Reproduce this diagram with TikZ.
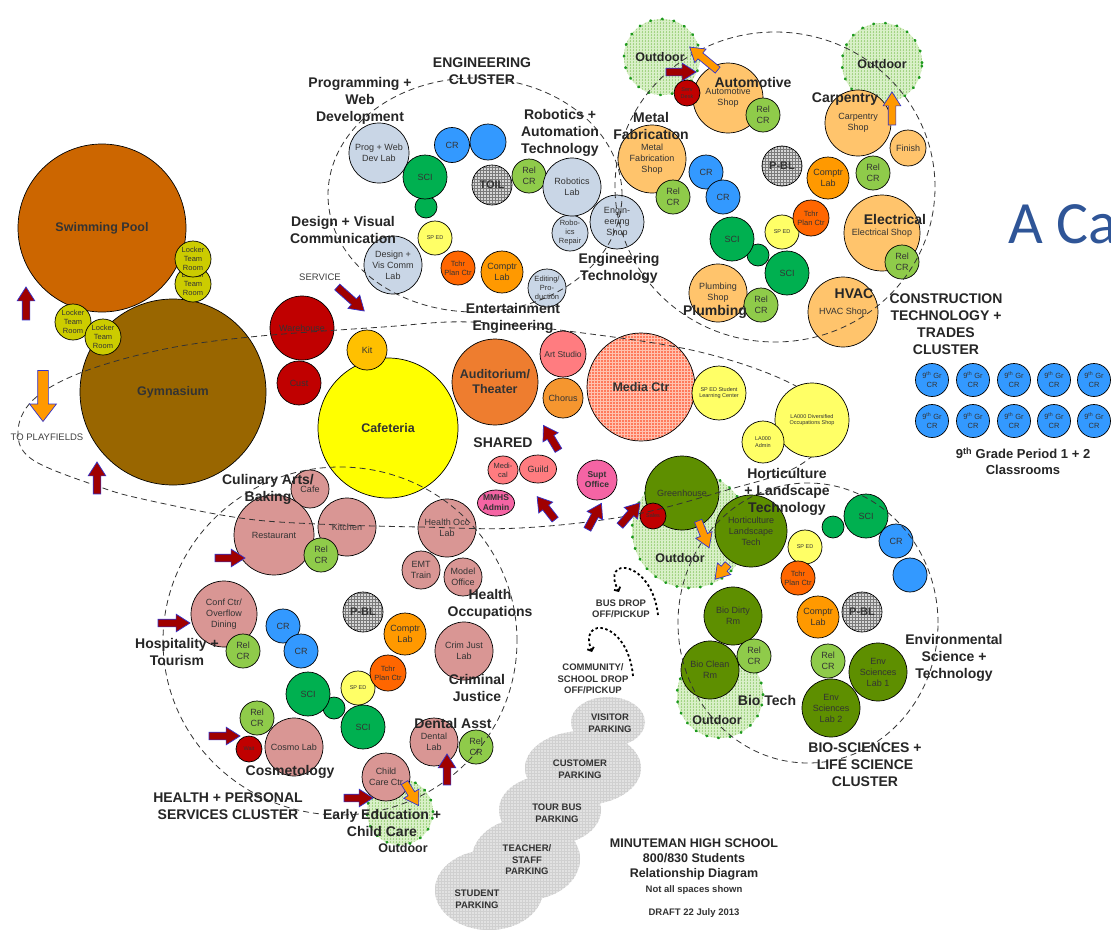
\documentclass[tikz,border=0pt]{standalone}
\usepackage{fontspec}
\setmainfont{Liberation Sans}
\newfontfamily\slidefont{Carlito}
\usetikzlibrary{shapes.geometric,shapes.arrows,patterns,calc,arrows.meta}

% palette
\definecolor{cEng}{HTML}{C9D6E6}
\definecolor{cSci}{HTML}{00B050}
\definecolor{cCr}{HTML}{3399FF}
\definecolor{cRel}{HTML}{8FCB4A}
\definecolor{cSped}{HTML}{FFFF66}
\definecolor{cTchr}{HTML}{FF6600}
\definecolor{cComp}{HTML}{FF9900}
\definecolor{cShop}{HTML}{FFC46C}
\definecolor{cDred}{HTML}{C00000}
\definecolor{cHealth}{HTML}{D99694}
\definecolor{cHort}{HTML}{5E8F00}
\definecolor{cOut}{HTML}{D9F0C8}
\definecolor{cOutGrid}{HTML}{A3D484}
\definecolor{cOutDot}{HTML}{1E9A1E}
\definecolor{cPool}{HTML}{CC6600}
\definecolor{cGym}{HTML}{996600}
\definecolor{cLock}{HTML}{CCCC00}
\definecolor{cKit}{HTML}{FFC000}
\definecolor{cCaf}{HTML}{FFFF00}
\definecolor{cAud}{HTML}{EE7D2F}
\definecolor{cArt}{HTML}{FF7C80}
\definecolor{cChor}{HTML}{F5962F}
\definecolor{cMedia}{HTML}{FF7A5C}
\definecolor{cMediaGrid}{HTML}{FFC2B0}
\definecolor{cAdmin}{HTML}{F564A4}
\definecolor{cHatch}{HTML}{D6D6D6}
\definecolor{cHatchGrid}{HTML}{7A7A7A}
\definecolor{cPark}{HTML}{E2E2E2}
\definecolor{cParkGrid}{HTML}{D0D0D0}
\definecolor{cArrRed}{HTML}{A00000}
\definecolor{cArrBlue}{HTML}{3333CC}
\definecolor{cArrOr}{HTML}{FF9900}
\definecolor{cSlide}{HTML}{2F5597}

\tikzset{
  rm/.style={circle, draw=black, line width=0.7pt, inner sep=0pt},
  rmtxt/.style={inner sep=0pt, align=center, text=black!80, font=\fontsize{9}{11}\selectfont},
  txs/.style={font=\fontsize{7.5}{9}\selectfont},
  txt/.style={font=\fontsize{5.5}{6.5}\selectfont},
  txb/.style={font=\bfseries\fontsize{11}{13}\selectfont},
  txbs/.style={font=\bfseries\fontsize{8.5}{10}\selectfont},
  txbb/.style={font=\bfseries\fontsize{12.5}{15}\selectfont},
  eng/.style={fill=cEng}, sci/.style={fill=cSci}, crm/.style={fill=cCr},
  rel/.style={fill=cRel}, sped/.style={fill=cSped}, tchr/.style={fill=cTchr},
  comp/.style={fill=cComp}, shop/.style={fill=cShop}, dred/.style={fill=cDred},
  hlth/.style={fill=cHealth}, hort/.style={fill=cHort},
  hatch/.style={preaction={fill=cHatch}, pattern=grid, pattern color=cHatchGrid},
  mediafill/.style={preaction={fill=cMedia}, pattern=grid, pattern color=cMediaGrid},
  outdoor/.style={circle, inner sep=0pt, preaction={fill=cOut}, pattern=grid,
    pattern color=cOutGrid, draw=cOutDot, line width=2.6pt, line cap=round,
    dash pattern=on 0.8pt off 11pt},
  parking/.style={ellipse, inner sep=0pt, preaction={fill=cPark}, pattern=grid,
    pattern color=cParkGrid},
  cluster/.style={draw=black!80, line width=0.8pt, dash pattern=on 6pt off 4pt},
  lbl/.style={inner sep=0pt, align=center, text=black!85,
    font=\bfseries\fontsize{14}{17}\selectfont},
  lblm/.style={lbl, font=\bfseries\fontsize{12.5}{15}\selectfont},
  lbls/.style={lbl, text=black!80, font=\bfseries\fontsize{9.5}{11.5}\selectfont},
  note/.style={inner sep=0pt, align=center, text=black!75,
    font=\fontsize{9.5}{11}\selectfont},
  blkred/.style={single arrow, fill=cArrRed, draw=cArrBlue, line width=0.7pt,
    inner xsep=0pt, inner ysep=3.5pt, single arrow head extend=5pt,
    single arrow tip angle=65},
  blkor/.style={blkred, fill=cArrOr},
  blkbig/.style={blkor, inner ysep=5pt, single arrow head extend=8pt,
    single arrow tip angle=75},
  dropline/.style={line width=1.8pt, dash pattern=on 2.5pt off 2.5pt,
    -{Straight Barb[length=3pt,width=7pt]}},
}

% a room: name, centre, radius, fill style, text style, text
\newcommand\roomc[6]{%
  \node[rm, minimum size=#3*2pt, #4] (#1) at (#2) {};
  \node[rmtxt, #5] (#1-t) at (#1.center) {#6};}
% a block arrow: name, style, tail, tip
\newcommand\blk[4]{%
  \path let \p1=(#3), \p2=(#4), \n1={atan2(\y2-\y1,\x2-\x1)},
    \n2={veclen(\x2-\x1,\y2-\y1)} in
    node[#2, rotate=\n1, minimum height=\n2] (#1) at ($(\p1)!0.5!(\p2)$) {};}

\begin{document}
\begin{tikzpicture}[x=1pt,y=-1pt]
\useasboundingbox (0,0) rectangle (1111,929);
\fill[white] (0,0) rectangle (1111,929);

% ---------- parking ----------
\node[parking, minimum width=108pt, minimum height=80pt] (pstudent) at (489,890) {};
\node[parking, minimum width=108pt, minimum height=82pt] (pteacher) at (526,859) {};
\node[parking, minimum width=102pt, minimum height=70pt] (ptour) at (550,810) {};
\node[parking, minimum width=116pt, minimum height=74pt] (pcustomer) at (583,768) {};
\node[parking, minimum width=74pt, minimum height=50pt] (pvisitor) at (608,722) {};

% ---------- outdoor areas ----------
\node[outdoor, minimum size=76pt] (outauto) at (662,57) {};
\node[outdoor, minimum size=80pt] (outcarp) at (882,63) {};
\node[outdoor, minimum size=116pt] (outgreen) at (690,530) {};
\node[outdoor, minimum size=86pt] (outbio) at (720,695) {};
\node[outdoor, minimum size=66pt] (outchild) at (400,812) {};

% ---------- athletics ----------
\roomc{pool}{102,228}{84}{fill=cPool}{txbb}{Swimming Pool}
\roomc{gym}{173,392}{93}{fill=cGym}{txbb}{Gymnasium}
\roomc{lock1}{193,284}{18}{fill=cLock}{txs}{Locker\\Team\\Room}
\roomc{lock2}{193,259}{18}{fill=cLock}{txs}{Locker\\Team\\Room}
\roomc{lock3}{73,322}{18}{fill=cLock}{txs}{Locker\\Team\\Room}
\roomc{lock4}{103,337}{18}{fill=cLock}{txs}{Locker\\Team\\Room}

% ---------- engineering cluster ----------
\roomc{ecs}{426,207}{11}{sci}{}{}
\roomc{progweb}{379,153}{30}{eng}{}{Prog + Web\\Dev Lab}
\roomc{ecr1}{452,145}{17.5}{crm}{}{CR}
\roomc{ecr2}{488,142}{18}{crm}{}{}
\roomc{esci}{425,177}{22}{sci}{}{SCI}
\roomc{toil}{492,185}{20}{hatch}{txb}{TOIL}
\roomc{erel}{529,176}{17}{rel}{}{Rel\\CR}
\roomc{robrep}{570,233}{18}{eng}{txs}{Robo-\\ics\\Repair}
\roomc{roblab}{572,187}{29}{eng}{}{Robotics\\Lab}
\roomc{engshop}{617,222}{27}{eng}{}{Engin-\\eering\\Shop}
\roomc{esped}{435,238}{17}{sped}{txt}{SP ED}
\roomc{dvc}{393,265}{29}{eng}{}{Design +\\Vis Comm\\Lab}
\roomc{etchr}{458,268}{17}{tchr}{txs}{Tchr\\Plan Ctr}
\roomc{ecomp}{502,272}{21}{comp}{}{Comptr\\Lab}
\roomc{edit}{547,288}{19}{eng}{txs}{Editing/\\Pro-\\duction}

% ---------- construction cluster ----------
\roomc{autoshop}{728,98}{35}{shop}{}{Automotive\\Shop}
\roomc{servdesk}{687,93}{13}{dred}{txt}{Serv\\Desk}
\roomc{arel}{763,115}{17}{rel}{}{Rel\\CR}
\roomc{carpshop}{858,123}{33}{shop}{}{Carpentry\\Shop}
\roomc{finish}{908,148}{18}{shop}{}{Finish}
\roomc{crel}{873,173}{17}{rel}{}{Rel\\CR}
\roomc{metalshop}{652,159}{34}{shop}{}{Metal\\Fabrication\\Shop}
\roomc{mrel}{673,197}{17}{rel}{}{Rel\\CR}
\roomc{ccr1}{706,172}{17}{crm}{}{CR}
\roomc{ccr2}{723,197}{17}{crm}{}{CR}
\roomc{cpbl}{782,166}{20}{hatch}{txb}{P-BL}
\roomc{ccomp}{828,178}{21}{comp}{}{Comptr\\Lab}
\roomc{csped}{782,232}{17}{sped}{txt}{SP ED}
\roomc{ctchr}{811,218}{18}{tchr}{txs}{Tchr\\Plan Ctr}
\roomc{ccs}{758,255}{11}{sci}{}{}
\roomc{csci1}{732,239}{22}{sci}{}{SCI}
\roomc{csci2}{787,273}{22}{sci}{}{SCI}
\roomc{elecshop}{882,233}{38}{shop}{}{Electrical Shop}
\roomc{erel2}{902,262}{17}{rel}{}{Rel\\CR}
\roomc{plumbshop}{718,293}{29}{shop}{}{Plumbing\\Shop}
\roomc{prel}{761,305}{17}{rel}{}{Rel\\CR}
\roomc{hvacshop}{843,312}{35}{shop}{}{HVAC Shop}

% ---------- 9th grade classrooms ----------
\foreach \i/\cx in {1/932,2/973,3/1014,4/1054,5/1094}
  \foreach \j/\cy in {a/380,b/421}
    {\roomc{g\i\j}{\cx,\cy}{16.5}{crm}{txs}{9\textsuperscript{th} Gr\\CR}}

% ---------- shared spaces ----------
\roomc{warehouse}{302,328}{32}{dred}{}{Warehouse}
\roomc{cust}{299,383}{22}{dred}{}{Cust}
\roomc{cafeteria}{388,428}{70}{fill=cCaf}{txbb}{Cafeteria}
\roomc{kit}{367,350}{20}{fill=cKit}{}{Kit}
\roomc{aud}{495,382}{43}{fill=cAud}{txbb}{Auditorium/\\Theater}
\roomc{art}{563,354}{23}{fill=cArt}{font=\fontsize{8.5}{10}\selectfont}{Art Studio}
\roomc{chorus}{563,398}{20}{fill=cChor}{}{Chorus}
\roomc{media}{641,387}{54}{mediafill}{txbb}{Media Ctr}
\roomc{sslc}{719,393}{27}{sped}{txt}{SP ED Student\\Learning Center}
\roomc{medical}{503,470}{14}{fill=cArt, ellipse, minimum width=30pt}{txs}{Medi-\\cal}
\roomc{guild}{538,469}{14}{fill=cArt, ellipse, minimum width=37pt}{}{Guild}
\roomc{mmhs}{496,503}{13}{fill=cAdmin, ellipse, minimum width=37pt}{txbs}{MMHS\\Admin}
\roomc{supt}{597,480}{20}{fill=cAdmin}{txbs}{Supt\\Office}

% ---------- health + personal services cluster ----------
\roomc{cafe}{310,489}{19}{hlth}{}{Cafe}
\roomc{restaurant}{274,535}{40}{hlth}{}{Restaurant}
\roomc{kitchen}{347,527}{29}{hlth}{}{Kitchen}
\roomc{hrel1}{321,555}{17}{rel}{}{Rel\\CR}
\roomc{healthocc}{447,528}{29}{hlth}{}{Health Occ\\Lab}
\roomc{emt}{421,570}{19}{hlth}{}{EMT\\Train}
\roomc{model}{463,577}{19}{hlth}{}{Model\\Office}
\roomc{confctr}{224,614}{33}{hlth}{}{Conf Ctr/\\Overflow\\Dining}
\roomc{hrel2}{243,651}{17}{rel}{}{Rel\\CR}
\roomc{hcr1}{283,626}{17}{crm}{}{CR}
\roomc{hcr2}{301,651}{17}{crm}{}{CR}
\roomc{hpbl}{363,612}{20}{hatch}{txb}{P-BL}
\roomc{hcomp}{405,634}{21}{comp}{}{Comptr\\Lab}
\roomc{hsped}{358,688}{17}{sped}{txt}{SP ED}
\roomc{htchr}{388,673}{18}{tchr}{txs}{Tchr\\Plan Ctr}
\roomc{hcs}{334,708}{11}{sci}{}{}
\roomc{hsci1}{308,694}{22}{sci}{}{SCI}
\roomc{hsci2}{363,727}{22}{sci}{}{SCI}
\roomc{crimlab}{464,651}{29}{hlth}{}{Crim Just\\Lab}
\roomc{hrel3}{257,718}{17}{rel}{}{Rel\\CR}
\roomc{cosmo}{294,747}{29}{hlth}{}{Cosmo Lab}
\roomc{wait}{249,749}{13}{dred}{txt}{Wait}
\roomc{dental}{434,742}{24}{hlth}{}{Dental\\Lab}
\roomc{hrel4}{476,747}{17}{rel}{}{Rel\\CR}
\roomc{childcare}{386,777}{24}{hlth}{}{Child\\Care Ctr}

% ---------- bio-sciences cluster ----------
\roomc{greenhouse}{682,493}{37}{hort}{}{Greenhouse}
\roomc{sales}{653,516}{13}{dred}{txt}{Sales}
\roomc{hortlab}{751,531}{36}{hort}{}{Horticulture\\Landscape\\Tech}
\roomc{bsped}{805,547}{17}{sped}{txt}{SP ED}
\roomc{btchr}{798,578}{17}{tchr}{txs}{Tchr\\Plan Ctr}
\roomc{bcomp}{818,617}{21}{comp}{}{Comptr\\Lab}
\roomc{bpbl}{862,612}{20}{hatch}{txb}{P-BL}
\roomc{bcs}{833,527}{11}{sci}{}{}
\roomc{bsci}{866,516}{22}{sci}{}{SCI}
\roomc{bcr1}{896,541}{17}{crm}{}{CR}
\roomc{bcr2}{910,575}{17}{crm}{}{}
\roomc{biodirty}{733,616}{29}{hort}{}{Bio Dirty\\Rm}
\roomc{brel1}{754,656}{17}{rel}{}{Rel\\CR}
\roomc{bioclean}{710,670}{29}{hort}{}{Bio Clean\\Rm}
\roomc{brel2}{828,661}{17}{rel}{}{Rel\\CR}
\roomc{envlab1}{878,672}{29}{hort}{}{Env\\Sciences\\Lab 1}
\roomc{envlab2}{831,708}{29}{hort}{}{Env\\Sciences\\Lab 2}

% ---------- cluster boundaries ----------
\draw[cluster] (475,195) ellipse [x radius=147pt, y radius=117pt];
\draw[cluster] (775,187) ellipse [x radius=160pt, y radius=155pt];
\draw[cluster] (340,641) ellipse [x radius=177pt, y radius=174pt];
\draw[cluster] (808,623) ellipse [x radius=130pt, y radius=140pt];
\draw[cluster] plot[smooth cycle, tension=0.6] coordinates {
  (18,432) (33,400) (80,373) (160,350) (250,337) (383,327) (470,322)
  (583,333) (700,352) (790,383) (835,420) (800,465) (720,492) (627,516)
  (520,528) (420,527) (317,524) (240,518) (147,500) (100,487) (33,460)};

% shared rooms sitting above the boundary line
\roomc{lashop}{812,420}{37}{sped}{txt}{LA000 Diversified\\Occupations Shop}
\roomc{laadmin}{763,442}{21}{sped}{txt}{LA000\\Admin}

% ---------- labels ----------
\node[lbl] (lengc) at (482,71) {ENGINEERING\\CLUSTER};
\node[lbl] (lprog) at (360,101) {Programming +\\Web\\Development};
\node[lbl] (lrob) at (560,133) {Robotics +\\Automation\\Technology};
\node[lbl] (ldes) at (343,230) {Design + Visual\\Communication};
\node[lbl] (lengt) at (619,268) {Engineering\\Technology};
\node[lbl] (lent) at (513,318) {Entertainment\\Engineering};

\node[lbl] (lauto) at (753,82) {Automotive};
\node[lbl] (lcarp) at (845,99) {Carpentry};
\node[lbl] (lmetal) at (651,126) {Metal\\Fabrication};
\node[lbl] (lelec) at (895,219) {Electrical};
\node[lbl] (lhvac) at (854,294) {HVAC};
\node[lbl] (lplumb) at (715,312) {Plumbing};
\node[lbl] (lconst) at (946,324) {CONSTRUCTION\\TECHNOLOGY +\\TRADES\\CLUSTER};
\node[lblm] (loutauto) at (660,57) {Outdoor};
\node[lblm] (loutcarp) at (882,64) {Outdoor};

\node[lblm, font=\bfseries\fontsize{13}{16}\selectfont] (lninth) at (1023,461)
  {9\textsuperscript{th} Grade Period 1 + 2\\Classrooms};

\node[note] (lplay) at (47,437) {TO PLAYFIELDS};
\node[note] (lserv) at (320,277) {SERVICE};
\node[lbl] (lshared) at (503,443) {SHARED};

\node[lbl] (lcul) at (268,489) {Culinary Arts/\\Baking};
\node[lbl] (lhosp) at (177,652) {Hospitality +\\Tourism};
\node[lbl] (lhocc) at (490,604) {Health\\Occupations};
\node[lbl] (lcrim) at (477,688) {Criminal\\Justice};
\node[lbl] (ldent) at (453,723) {Dental Asst};
\node[lbl] (lcosmo) at (290,772) {Cosmetology};
\node[lbl] (lhealth) at (228,806) {HEALTH + PERSONAL\\SERVICES CLUSTER};
\node[lbl] (learly) at (382,823) {Early Education +\\Child Care};
\node[lblm] (loutchild) at (403,848) {Outdoor};

\node[lbl] (lhort) at (787,492) {Horticulture\\+ Landscape\\Technology};
\node[lbl] (lenv) at (954,658) {Environmental\\Science +\\Technology};
\node[lbl] (lbiot) at (767,700) {Bio Tech};
\node[lbl] (lbio) at (865,765) {BIO-SCIENCES +\\LIFE SCIENCE\\CLUSTER};
\node[lblm] (loutgreen) at (680,558) {Outdoor};
\node[lblm] (loutbio) at (717,720) {Outdoor};

\node[lbls] (lbus) at (621,609) {BUS DROP\\OFF/PICKUP};
\node[lbls] (lcomm) at (593,679) {COMMUNITY/\\SCHOOL DROP\\OFF/PICKUP};
\node[lbls] (lpv) at (610,723) {VISITOR\\PARKING};
\node[lbls] (lpc) at (580,769) {CUSTOMER\\PARKING};
\node[lbls] (lpt) at (557,813) {TOUR BUS\\PARKING};
\node[lbls] (lps) at (527,860) {TEACHER/\\STAFF\\PARKING};
\node[lbls] (lpst) at (477,899) {STUDENT\\PARKING};

\node[lblm] (ltitle) at (694,859) {MINUTEMAN HIGH SCHOOL\\800/830 Students\\Relationship Diagram};
\node[lbls] (lnote) at (694,890) {Not all spaces shown};
\node[lbls] (ldraft) at (694,913) {DRAFT 22 July 2013};

\node[anchor=base west, inner sep=0pt, text=cSlide,
  font=\slidefont\fontsize{60}{60}\selectfont] (slidetitle) at (1008,243) {A Ca};

% ---------- drop-off loops ----------
\coordinate (bus1s) at (658,615);
\coordinate (bus1e) at (619,592);
\draw[dropline] (bus1s) .. controls (652,560) and (600,555) .. (bus1e);
\coordinate (com1s) at (633,676);
\coordinate (com1e) at (592,652);
\draw[dropline] (com1s) .. controls (628,620) and (578,615) .. (com1e);

% ---------- block arrows ----------
\blk{aw1}{blkred}{26,323}{26,290}
\blk{aw2}{blkred}{97,497}{97,465}
\blk{aw3}{blkbig}{43,367}{43,418}
\blk{aw4}{blkred}{335,285}{362,309}
\blk{aw5}{blkred}{663,72}{693,72}
\blk{aw6}{blkor}{720,72}{692,49}
\blk{aw7}{blkor}{892,128}{892,95}
\blk{aw8}{blkred}{560,453}{545,428}
\blk{aw9}{blkred}{557,522}{539,499}
\blk{aw10}{blkred}{586,532}{600,506}
\blk{aw11}{blkred}{618,528}{638,505}
\blk{aw12}{blkred}{212,558}{242,558}
\blk{aw13}{blkred}{155,623}{187,623}
\blk{aw14}{blkred}{206,736}{237,736}
\blk{aw15}{blkred}{341,798}{370,798}
\blk{aw16}{blkred}{447,788}{447,757}
\blk{aw17}{blkor}{403,780}{417,803}
\blk{aw18}{blkor}{697,518}{708,545}
\blk{aw19}{blkor}{730,562}{717,577}
\end{tikzpicture}
\end{document}
